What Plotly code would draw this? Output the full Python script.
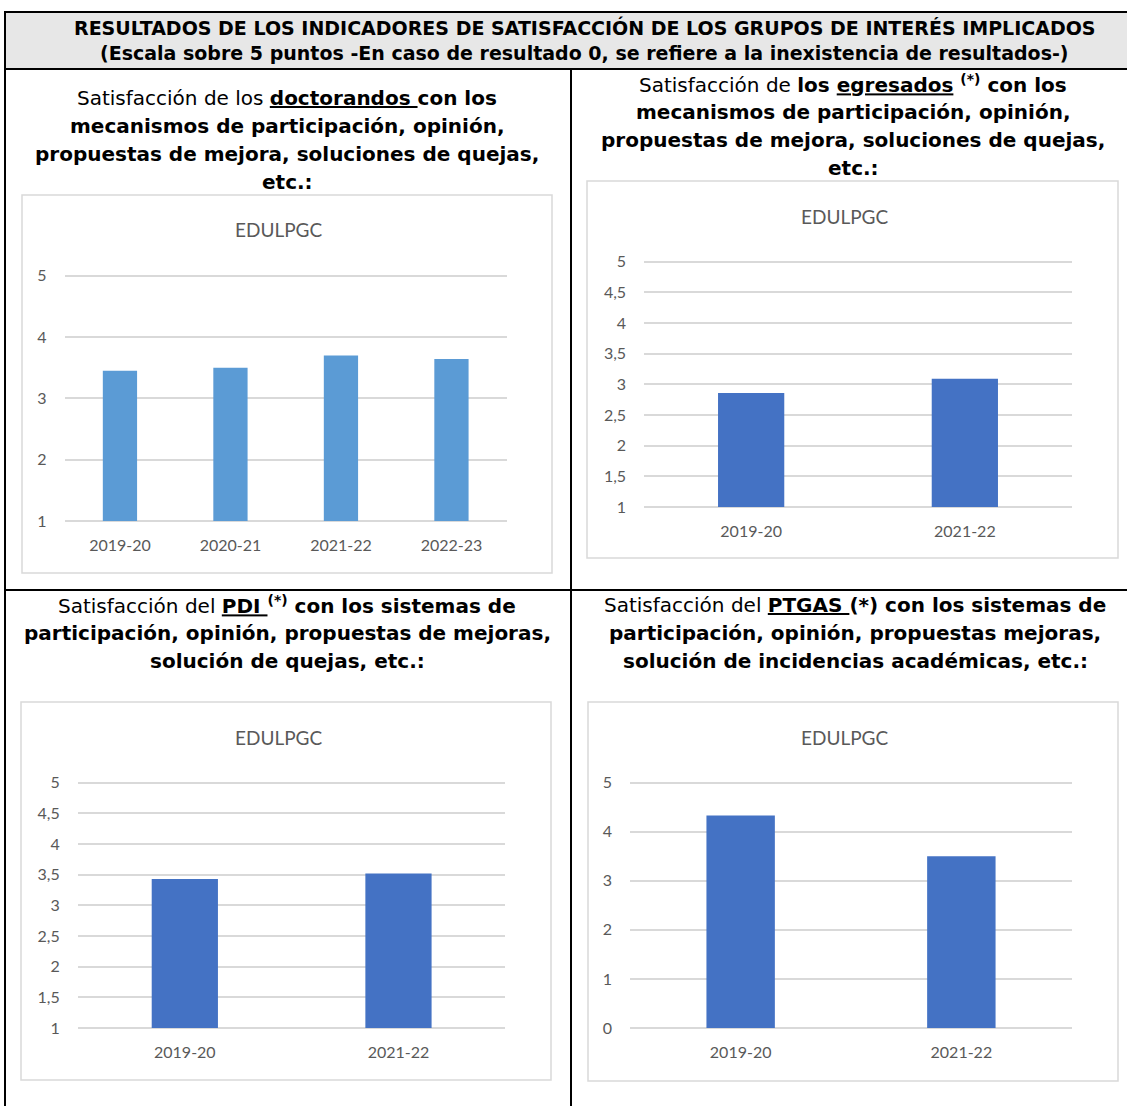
import plotly.graph_objects as go

W, H = 1127, 1106

# ---------------- data ----------------
doct_cats = ["2019-20", "2020-21", "2021-22", "2022-23"]
doct_vals = [3.45, 3.50, 3.70, 3.64]

egre_cats = ["2019-20", "2021-22"]
egre_vals = [2.86, 3.09]

pdi_cats = ["2019-20", "2021-22"]
pdi_vals = [3.43, 3.52]

ptgas_cats = ["2019-20", "2021-22"]
ptgas_vals = [4.33, 3.50]

chart_title = "EDULPGC"
header_lines = [
    "RESULTADOS DE LOS INDICADORES DE SATISFACCIÓN DE LOS GRUPOS DE INTERÉS IMPLICADOS",
    "(Escala sobre 5 puntos -En caso de resultado 0, se refiere a la inexistencia de resultados-)",
]
cell_titles = [
    ["Satisfacción de los <b><u>doctorandos </u>con los</b>",
     "<b>mecanismos de participación, opinión,</b>",
     "<b>propuestas de mejora, soluciones de quejas,</b>",
     "<b>etc.:</b>"],
    ["Satisfacción de <b>los <u>egresados</u> <sup>(*)</sup> con los</b>",
     "<b>mecanismos de participación, opinión,</b>",
     "<b>propuestas de mejora, soluciones de quejas,</b>",
     "<b>etc.:</b>"],
    ["Satisfacción del <b><u>PDI </u><sup>(*)</sup> con los sistemas de</b>",
     "<b>participación, opinión, propuestas de mejoras,</b>",
     "<b>solución de quejas, etc.:</b>"],
    ["Satisfacción del <b><u>PTGAS </u>(*) con los sistemas de</b>",
     "<b>participación, opinión, propuestas mejoras,</b>",
     "<b>solución de incidencias académicas, etc.:</b>"],
]

# ---------------- helpers ----------------
def fx(x):
    return x / W

def fy(y):
    return 1 - y / H

fig = go.Figure()

# plot areas in pixels: (x0, x1, ytop, ybottom)
areas = [
    (64.7, 506.7, 275.7, 521.0),
    (644.3, 1071.7, 261.7, 507.0),
    (78.0, 505.3, 782.7, 1028.0),
    (630.3, 1071.7, 782.7, 1028.0),
]
series = [
    (doct_cats, doct_vals, "#5B9BD5", (1, 5), 1),
    (egre_cats, egre_vals, "#4472C4", (1, 5), 0.5),
    (pdi_cats, pdi_vals, "#4472C4", (1, 5), 0.5),
    (ptgas_cats, ptgas_vals, "#4472C4", (0, 5), 1),
]
boxes = [
    (22, 552, 195, 573),
    (587, 1118, 181, 558),
    (21, 551, 702, 1080),
    (588, 1118, 702, 1081),
]
title_pos = [(278, 230), (844, 216), (278, 737), (844, 737)]

tick_font = dict(family="Lato, 'Open Sans', sans-serif", size=16, color="#595959")
PADPX = 3.0  # extra pixels so boundary gridlines are not clipped away

for i, ((cats, vals, col, (lo, hi), dt), (x0, x1, yt, yb)) in enumerate(zip(series, areas)):
    key = "" if i == 0 else str(i + 1)
    pad = (hi - lo) / (yb - yt) * PADPX
    fig.add_trace(go.Bar(
        x=cats, y=[v - lo for v in vals], base=lo,
        customdata=vals, hovertemplate="%{x}: %{customdata}<extra></extra>",
        marker=dict(color=col, line=dict(width=0)),
        width=0.31, xaxis="x" + key, yaxis="y" + key, showlegend=False,
    ))
    xa = dict(domain=[fx(x0), fx(x1)], anchor="y" + key,
              showgrid=False, showline=False, zeroline=False, ticks="outside",
              ticklen=7, tickcolor="rgba(0,0,0,0)", tickfont=tick_font,
              fixedrange=True, type="category", automargin=False)
    ya = dict(domain=[fy(yb + PADPX), fy(yt - PADPX)], anchor="x" + key,
              range=[lo - pad, hi + pad], dtick=dt, tick0=0, showgrid=True,
              gridcolor="#D9D9D9", gridwidth=1.5, zeroline=False, showline=False,
              ticks="outside", ticklen=14, tickcolor="rgba(0,0,0,0)",
              tickfont=tick_font, fixedrange=True, automargin=False)
    fig.update_layout({"xaxis" + key: xa, "yaxis" + key: ya})

shapes = []
annotations = []

# chart boxes
for (bx0, bx1, by0, by1) in boxes:
    shapes.append(dict(type="rect", xref="paper", yref="paper",
                       x0=fx(bx0), x1=fx(bx1), y0=fy(by1), y1=fy(by0),
                       line=dict(color="#D9D9D9", width=1.5), fillcolor="rgba(0,0,0,0)",
                       layer="below"))

# table structure
shapes.append(dict(type="rect", xref="paper", yref="paper",
                   x0=fx(5), x1=fx(1130), y0=fy(69), y1=fy(12),
                   line=dict(color="#000000", width=2), fillcolor="#E7E7E7", layer="below"))
for (ax0, ay0, ax1, ay1) in [(5, 12, 5, 1106), (571, 69, 571, 1106), (5, 590, 1130, 590)]:
    shapes.append(dict(type="line", xref="paper", yref="paper",
                       x0=fx(ax0), x1=fx(ax1), y0=fy(ay0), y1=fy(ay1),
                       line=dict(color="#000000", width=2)))

txt_font = "DejaVu Sans, Verdana, sans-serif"
for line, yy in zip(header_lines, [27, 53]):
    annotations.append(dict(text="<b>" + line + "</b>", x=fx(585), y=fy(yy),
                            xref="paper", yref="paper", showarrow=False,
                            xanchor="center", yanchor="middle",
                            font=dict(family=txt_font, size=19, color="#000000")))

cell_pos = [(287, 98), (853, 84), (287, 605), (855, 605)]
for lines, (cx, cy) in zip(cell_titles, cell_pos):
    for k, line in enumerate(lines):
        annotations.append(dict(text=line, x=fx(cx), y=fy(cy + 28 * k),
                                xref="paper", yref="paper", showarrow=False,
                                xanchor="center", yanchor="middle",
                                font=dict(family=txt_font, size=20, color="#000000")))

for (tx, ty) in title_pos:
    annotations.append(dict(text=chart_title, x=fx(tx), y=fy(ty), xref="paper", yref="paper",
                            showarrow=False, xanchor="center", yanchor="middle",
                            font=dict(family="Lato, 'Open Sans', sans-serif", size=19,
                                      color="#595959")))

fig.update_layout(
    width=W, height=H, margin=dict(l=0, r=0, t=0, b=0, autoexpand=False),
    paper_bgcolor="white", plot_bgcolor="rgba(0,0,0,0)",
    shapes=shapes, annotations=annotations, separators=",.",
    showlegend=False,
)

fig.write_html("out.html", config={"displayModeBar": False},
               post_script="document.body.style.margin='0';")
